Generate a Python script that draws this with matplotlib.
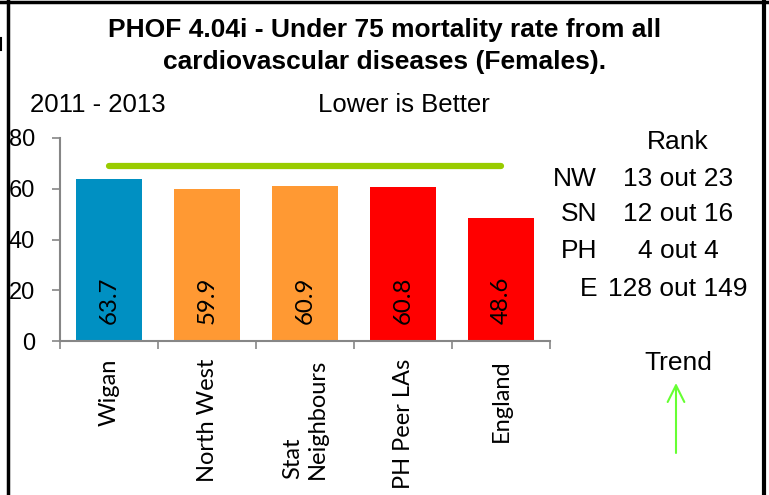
import numpy as np
import matplotlib.pyplot as plt
from matplotlib.lines import Line2D

# data
categorias = ["Wigan", "North West", "Stat\nNeighbours", "PH Peer LAs", "England"]
valores = [63.7, 59.9, 60.9, 60.8, 48.6]
cores = ["#0090C2", "#FF9933", "#FF9933", "#FF0000", "#FF0000"]
meta = 69.0

rank_cod = ["NW", "SN", "PH", "E"]
rank_txt = ["13 out 23", "12 out 16", "4 out 4", "128 out 149"]

W, H = 769, 495
fig = plt.figure(figsize=(W / 100, H / 100), dpi=100)


def px(x, y):
    # pixel (top-left origin) -> figure fraction
    return x / W, 1 - y / H


arial = ["Liberation Sans", "DejaVu Sans"]
calibri = ["Lato", "DejaVu Sans"]

ax = fig.add_axes([60 / W, 1 - 341 / H, 490 / W, 203 / H])
x = np.arange(len(valores))
ax.bar(x, valores, width=0.67, color=cores, zorder=2)
ax.plot([x[0], x[-1]], [meta, meta], color="#99CC00", lw=4.5,
        solid_capstyle="round", zorder=3)

for xi, v in zip(x, valores):
    ax.text(xi, 16, "{:.1f}".format(v), rotation=90, ha="center", va="center",
            fontsize=17.3, family=calibri, color="black", zorder=4)

ax.set_xlim(-0.5, len(valores) - 0.5)
ax.set_ylim(0, 80)
ax.set_yticks([0, 20, 40, 60, 80])
ax.set_yticklabels(["0", "20", "40", "60", "80"], family=arial, fontsize=17)
ax.tick_params(axis="y", length=6, width=1.2, color="#868686", pad=12)

ax.set_xticks(x)
ax.set_xticklabels(categorias, rotation=90, family=calibri, fontsize=17,
                   va="top", ha="center", multialignment="left")
ax.tick_params(axis="x", which="major", length=0, pad=13)
ax.set_xticks(np.arange(-0.5, len(valores)), minor=True)
ax.tick_params(axis="x", which="minor", length=6, width=1.2, color="#868686")

for s in ["top", "right"]:
    ax.spines[s].set_visible(False)
for s in ["left", "bottom"]:
    ax.spines[s].set_color("#868686")
    ax.spines[s].set_linewidth(1.5)

# titles
fig.text(*px(385, 30), "PHOF 4.04i - Under 75 mortality rate from all",
         ha="center", va="center", fontsize=19, fontweight="bold", family=arial)
fig.text(*px(385, 62), "cardiovascular diseases (Females).",
         ha="center", va="center", fontsize=19, fontweight="bold", family=arial)
fig.text(*px(30, 105), "2011 - 2013", ha="left", va="center",
         fontsize=18.5, family=arial)
fig.text(*px(318, 105), "Lower is Better", ha="left", va="center",
         fontsize=18.5, family=arial)

# rank table
fig.text(*px(678, 142), "Rank", ha="center", va="center", fontsize=19, family=arial)
ys = [179, 214, 251, 289]
for yy, c, t in zip(ys, rank_cod, rank_txt):
    fig.text(*px(597, yy), c, ha="right", va="center", fontsize=19, family=arial)
    fig.text(*px(678, yy), t, ha="center", va="center", fontsize=19, family=arial)

fig.text(*px(678, 363), "Trend", ha="center", va="center", fontsize=19, family=arial)
ax.annotate("", xy=(676, H - 383), xytext=(676, H - 453),
            xycoords="figure pixels", textcoords="figure pixels",
            arrowprops=dict(arrowstyle="->,head_length=1.2,head_width=0.6",
                            color="#66FF33", lw=1.5, shrinkA=0, shrinkB=0))

# frame
fig.add_artist(Line2D([8 / W, 8 / W], [0, 1], color="black", lw=2.5))
fig.add_artist(Line2D([764 / W, 764 / W], [0, 1], color="black", lw=3))
fig.add_artist(Line2D([0, 1], [1 - 1.5 / H, 1 - 1.5 / H], color="black", lw=2.5))
fig.add_artist(Line2D([1 / W, 1 / W], [1 - 38 / H, 1 - 50 / H], color="black", lw=1.5))

fig.savefig("out.png", dpi=100)
